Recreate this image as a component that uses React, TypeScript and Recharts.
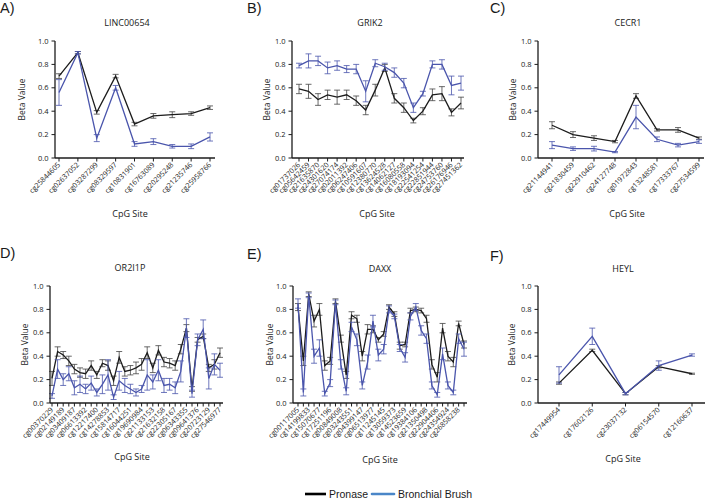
import React from 'react';
import { LineChart, Line, XAxis, YAxis, ErrorBar } from 'recharts';

const BLACK = '#1c1c1c';
const BLUE = '#4a55ac';
const FONT = '"Open Sans", "Liberation Sans", sans-serif';

// ─── A) LINC00654 ───────────────────────────────────────────────────────────
const sitesA = ['cg25844605', 'cg02637052', 'cg03287299', 'cg08329597', 'cg10831901', 'cg16763089', 'cg20295248', 'cg21235746', 'cg25958766'];
const pronaseA = [0.7, 0.9, 0.39, 0.7, 0.29, 0.36, 0.37, 0.38, 0.43];
const pronaseErrA = [0.02, 0.01, 0.015, 0.015, 0.015, 0.02, 0.025, 0.015, 0.015];
const brushA = [0.56, 0.9, 0.17, 0.6, 0.12, 0.14, 0.1, 0.1, 0.18];
const brushErrA = [0.11, 0.01, 0.03, 0.02, 0.02, 0.025, 0.015, 0.02, 0.035];

// ─── B) GRIK2 ───────────────────────────────────────────────────────────────
const sitesB = ['cg01737026', 'cg05642459', 'cg21635870', 'cg24301620', 'cg27074174', 'cg02011392', 'cg06247406', 'cg10591607', 'cg12380770', 'cg13624528', 'cg14062127', 'cg16080558', 'cg18193094', 'cg22541254', 'cg22851944', 'cg24753760', 'cg26176946', 'cg27451362'];
const pronaseB = [0.59, 0.57, 0.5, 0.54, 0.52, 0.54, 0.49, 0.41, 0.58, 0.77, 0.51, 0.43, 0.32, 0.4, 0.54, 0.55, 0.39, 0.47];
const pronaseErrB = [0.04, 0.06, 0.05, 0.04, 0.06, 0.04, 0.04, 0.04, 0.05, 0.03, 0.04, 0.04, 0.02, 0.03, 0.05, 0.06, 0.03, 0.05];
const brushB = [0.79, 0.83, 0.83, 0.77, 0.79, 0.76, 0.76, 0.57, 0.81, 0.78, 0.73, 0.64, 0.43, 0.55, 0.8, 0.8, 0.62, 0.64];
const brushErrB = [0.02, 0.06, 0.04, 0.05, 0.04, 0.03, 0.04, 0.09, 0.03, 0.03, 0.04, 0.04, 0.04, 0.02, 0.03, 0.04, 0.08, 0.06];

// ─── C) CECR1 ───────────────────────────────────────────────────────────────
const sitesC = ['cg21144941', 'cg21830459', 'cg22910462', 'cg24127748', 'cg01972843', 'cg13248581', 'cg17333767', 'cg27534599'];
const pronaseC = [0.28, 0.2, 0.17, 0.14, 0.53, 0.24, 0.24, 0.17];
const pronaseErrC = [0.03, 0.025, 0.02, 0.01, 0.02, 0.01, 0.02, 0.01];
const brushC = [0.11, 0.08, 0.08, 0.05, 0.35, 0.16, 0.11, 0.14];
const brushErrC = [0.03, 0.015, 0.02, 0.005, 0.1, 0.02, 0.015, 0.015];

// ─── D) OR2I1P (every other site labelled) ──────────────────────────────────
const sitesD = ['cg00370229', 'cg02149189', 'cg03409187', 'cg06613392', 'cg12217400', 'cg14278853', 'cg15814717', 'cg16044251', 'cg19690984', 'cg21133153', 'cg21632158', 'cg22305167', 'cg06343355', 'cg09641376', 'cg20723129', 'cg27546977'];
const pronaseD = [0.21, 0.44, 0.41, 0.36, 0.29, 0.26, 0.25, 0.32, 0.24, 0.34, 0.32, 0.19, 0.39, 0.27, 0.28, 0.3, 0.33, 0.43, 0.3, 0.45, 0.35, 0.34, 0.32, 0.46, 0.64, 0.12, 0.54, 0.57, 0.3, 0.33, 0.43];
const pronaseErrD = [0.06, 0.04, 0.03, 0.04, 0.04, 0.04, 0.04, 0.04, 0.03, 0.03, 0.04, 0.04, 0.05, 0.04, 0.04, 0.05, 0.05, 0.05, 0.04, 0.04, 0.04, 0.04, 0.04, 0.04, 0.03, 0.02, 0.02, 0.02, 0.03, 0.04, 0.04];
const brushD = [0.06, 0.29, 0.2, 0.25, 0.13, 0.16, 0.12, 0.17, 0.09, 0.16, 0.24, 0.05, 0.19, 0.15, 0.12, 0.09, 0.12, 0.24, 0.18, 0.28, 0.15, 0.16, 0.13, 0.27, 0.64, 0.08, 0.54, 0.63, 0.21, 0.33, 0.28];
const brushErrD = [0.02, 0.08, 0.05, 0.06, 0.06, 0.07, 0.04, 0.06, 0.03, 0.08, 0.13, 0.02, 0.08, 0.06, 0.04, 0.03, 0.03, 0.13, 0.06, 0.09, 0.06, 0.05, 0.05, 0.09, 0.08, 0.03, 0.05, 0.08, 0.09, 0.09, 0.06];

// ─── E) DAXX (every other site labelled) ────────────────────────────────────
const sitesE = ['cg00117005', 'cg14199833', 'cg15070677', 'cg17251196', 'cg00849008', 'cg03243551', 'cg04399147', 'cg06513977', 'cg11245145', 'cg13059373', 'cg14523659', 'cg19384106', 'cg21350498', 'cg22904406', 'cg24354924', 'cg26858238'];
const pronaseE = [0.82, 0.36, 0.93, 0.7, 0.8, 0.32, 0.36, 0.87, 0.55, 0.24, 0.75, 0.72, 0.4, 0.63, 0.63, 0.54, 0.59, 0.82, 0.76, 0.49, 0.5, 0.79, 0.8, 0.79, 0.72, 0.33, 0.22, 0.64, 0.4, 0.35, 0.68, 0.5];
const pronaseErrE = [0.03, 0.04, 0.02, 0.05, 0.05, 0.04, 0.03, 0.02, 0.03, 0.03, 0.03, 0.03, 0.04, 0.04, 0.03, 0.02, 0.02, 0.02, 0.02, 0.03, 0.02, 0.02, 0.02, 0.02, 0.03, 0.04, 0.04, 0.04, 0.04, 0.04, 0.02, 0.03];
const brushE = [0.85, 0.09, 0.92, 0.4, 0.47, 0.08, 0.17, 0.86, 0.33, 0.1, 0.65, 0.54, 0.15, 0.35, 0.7, 0.41, 0.46, 0.8, 0.74, 0.47, 0.39, 0.74, 0.82, 0.62, 0.55, 0.15, 0.07, 0.42, 0.15, 0.09, 0.55, 0.46];
const brushErrE = [0.04, 0.03, 0.02, 0.06, 0.07, 0.02, 0.03, 0.02, 0.04, 0.03, 0.04, 0.05, 0.03, 0.06, 0.05, 0.05, 0.04, 0.03, 0.02, 0.03, 0.04, 0.03, 0.03, 0.04, 0.04, 0.03, 0.02, 0.05, 0.03, 0.02, 0.04, 0.06];

// ─── F) HEYL ────────────────────────────────────────────────────────────────
const sitesF = ['cg17449954', 'cg17602126', 'cg23037132', 'cg06154570', 'cg12160637'];
const pronaseF = [0.17, 0.45, 0.08, 0.31, 0.25];
const pronaseErrF = [0.01, 0.01, 0.01, 0.01, 0.005];
const brushF = [0.24, 0.57, 0.08, 0.32, 0.41];
const brushErrF = [0.07, 0.07, 0.01, 0.04, 0.01];

const yTicks = [0, 0.2, 0.4, 0.6, 0.8, 1.0];

type Panel = {
  letter: string;
  title: string;
  sites: string[];
  every: number;
  pronase: number[];
  pronaseErr: number[];
  brush: number[];
  brushErr: number[];
  x0: number; x1: number; y0: number; y1: number;
  padL: number; padR: number;
  letterX: number; letterY: number;
  titleX: number; titleY: number;
  yLabelX: number;
  xLabelX: number; xLabelY: number;
};

const panels: Panel[] = [
  { letter: 'A)', title: 'LINC00654', sites: sitesA, every: 1, pronase: pronaseA, pronaseErr: pronaseErrA, brush: brushA, brushErr: brushErrA,
    x0: 55, x1: 215, y0: 41, y1: 158, padL: 4, padR: 5, letterX: 0, letterY: 13, titleX: 127, titleY: 26, yLabelX: 25, xLabelX: 130, xLabelY: 217 },
  { letter: 'B)', title: 'GRIK2', sites: sitesB, every: 1, pronase: pronaseB, pronaseErr: pronaseErrB, brush: brushB, brushErr: brushErrB,
    x0: 292, x1: 464, y0: 41, y1: 158, padL: 7, padR: 3, letterX: 247, letterY: 13, titleX: 370, titleY: 26, yLabelX: 270, xLabelX: 377, xLabelY: 217 },
  { letter: 'C)', title: 'CECR1', sites: sitesC, every: 1, pronase: pronaseC, pronaseErr: pronaseErrC, brush: brushC, brushErr: brushErrC,
    x0: 538, x1: 704, y0: 41, y1: 158, padL: 14, padR: 5, letterX: 490, letterY: 13, titleX: 628, titleY: 26, yLabelX: 516, xLabelX: 627, xLabelY: 217 },
  { letter: 'D)', title: 'OR2I1P', sites: sitesD, every: 2, pronase: pronaseD, pronaseErr: pronaseErrD, brush: brushD, brushErr: brushErrD,
    x0: 50, x1: 223, y0: 286, y1: 403, padL: 2, padR: 3, letterX: 0, letterY: 258, titleX: 130, titleY: 271, yLabelX: 28, xLabelX: 132, xLabelY: 460 },
  { letter: 'E)', title: 'DAXX', sites: sitesE, every: 2, pronase: pronaseE, pronaseErr: pronaseErrE, brush: brushE, brushErr: brushErrE,
    x0: 293, x1: 467, y0: 286, y1: 403, padL: 5, padR: 3, letterX: 247, letterY: 259, titleX: 380, titleY: 272, yLabelX: 273, xLabelX: 380, xLabelY: 463 },
  { letter: 'F)', title: 'HEYL', sites: sitesF, every: 1, pronase: pronaseF, pronaseErr: pronaseErrF, brush: brushF, brushErr: brushErrF,
    x0: 538, x1: 705, y0: 286, y1: 403, padL: 21, padR: 13, letterX: 490, letterY: 261, titleX: 623, titleY: 272, yLabelX: 515, xLabelX: 623, xLabelY: 462 },
];

const Y_AXIS_W = 40;
const TOP_M = 6;
const X_AXIS_H = 62;

const SiteTick = ({ x, y, payload, sites, every }: any) => {
  const i = Number(payload.value);
  const text = i % every === 0 ? sites[i / every] ?? '' : '';
  return (
    <text
      x={x}
      y={y}
      dy={2.5}
      transform={`rotate(-45 ${x} ${y})`}
      textAnchor="end"
      fontSize={7.2}
      fontFamily={FONT}
      fill="#1a1a1a"
    >
      {text}
    </text>
  );
};

function PanelChart({ p }: { p: Panel }) {
  const rows = p.pronase.map((v, i) => ({
    i,
    pronase: v,
    pronaseErr: p.pronaseErr[i],
    brush: p.brush[i],
    brushErr: p.brushErr[i],
  }));
  const width = p.x1 - p.x0 + Y_AXIS_W + 4;
  const height = p.y1 - p.y0 + TOP_M + X_AXIS_H;
  return (
    <div style={{ position: 'absolute', left: p.x0 - Y_AXIS_W, top: p.y0 - TOP_M }}>
      <LineChart width={width} height={height} data={rows} margin={{ top: TOP_M, right: 4, left: 0, bottom: 0 }}>
        <XAxis
          dataKey="i"
          type="category"
          interval={0}
          height={X_AXIS_H}
          padding={{ left: p.padL, right: p.padR }}
          tickSize={3.5}
          tickMargin={2}
          axisLine={{ stroke: BLACK, strokeWidth: 1.3 }}
          tickLine={{ stroke: BLACK, strokeWidth: 1 }}
          tick={<SiteTick sites={p.sites} every={p.every} />}
        />
        <YAxis
          domain={[0, 1]}
          ticks={yTicks}
          width={Y_AXIS_W}
          tickSize={3.5}
          tickMargin={3}
          tickFormatter={(v: number) => v.toFixed(1)}
          axisLine={{ stroke: BLACK, strokeWidth: 1.3 }}
          tickLine={{ stroke: BLACK, strokeWidth: 1 }}
          tick={{ fontSize: 7.5, fill: '#1a1a1a', fontFamily: FONT }}
        />
        <Line dataKey="pronase" stroke={BLACK} strokeWidth={1.3} dot={false} isAnimationActive={false}>
          <ErrorBar dataKey="pronaseErr" width={3} stroke="#444" strokeWidth={0.8} isAnimationActive={false} />
        </Line>
        <Line dataKey="brush" stroke={BLUE} strokeWidth={1.3} dot={false} isAnimationActive={false}>
          <ErrorBar dataKey="brushErr" width={3} stroke={BLUE} strokeWidth={0.8} isAnimationActive={false} />
        </Line>
      </LineChart>
    </div>
  );
}

export default function App() {
  return (
    <div style={{ position: 'absolute', left: 0, top: 0, width: 714, height: 499, background: '#fff', overflow: 'hidden' }}>
      {panels.map((p) => (
        <PanelChart key={p.letter} p={p} />
      ))}
      <svg width={714} height={499} style={{ position: 'absolute', left: 0, top: 0, pointerEvents: 'none' }}>
        {panels.map((p) => {
          const cy = (p.y0 + p.y1) / 2;
          return (
            <g key={p.letter} fontFamily={FONT} fill="#1a1a1a">
              <text x={p.letterX} y={p.letterY} fontSize={14.5} fontFamily='"Liberation Sans", Arial, sans-serif'>{p.letter}</text>
              <text x={p.titleX} y={p.titleY} fontSize={9} textAnchor="middle">{p.title}</text>
              <text x={p.yLabelX} y={cy} fontSize={8.5} textAnchor="middle" transform={`rotate(-90 ${p.yLabelX} ${cy})`}>Beta Value</text>
              <text x={p.xLabelX} y={p.xLabelY} fontSize={9} textAnchor="middle">CpG Site</text>
            </g>
          );
        })}
        <g fontFamily='"Liberation Sans", Arial, sans-serif' fontSize={10.5} fill="#1a1a1a">
          <line x1={305} x2={326} y1={494} y2={494} stroke="#000" strokeWidth={2.6} />
          <text x={329} y={497.5}>Pronase</text>
          <line x1={372} x2={394} y1={494} y2={494} stroke="#4a86c8" strokeWidth={2.6} strokeLinecap="round" />
          <text x={398} y={497.5}>Bronchial Brush</text>
        </g>
      </svg>
    </div>
  );
}
